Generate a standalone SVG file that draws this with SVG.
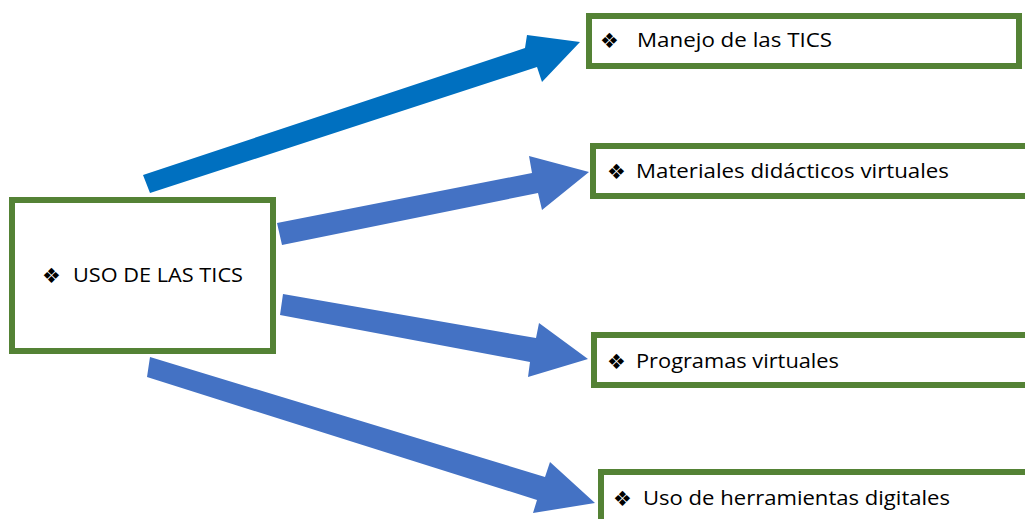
<svg xmlns="http://www.w3.org/2000/svg" width="1025" height="519" viewBox="0 0 1025 519">
<style>
.box{fill:#ffffff;stroke:#548235;stroke-width:6}
.lbl{font-family:"Open Sans","Liberation Sans",Arial,sans-serif;font-size:20px;fill:#000000}
.bul{font-family:"DejaVu Sans",sans-serif;font-size:21px;fill:#000000}
.a1{fill:#0070C0}
.a2{fill:#4472C4}
</style>
<rect width="1025" height="519" fill="#ffffff"/>
<g id="connectors">
<polygon class="a1" points="143,175 525,48 527,35 580,42 542,82 537,67 150,193"/>
<polygon class="a2" points="277,223 532,173 529,156 589,172 542,210 538,193 282,245"/>
<polygon class="a2" points="283,294 536,338 539,323 588,359 528,377 530,362 280,315"/>
<polygon class="a2" points="150,357 545,477 550,462 595,503 533,513 537,500 147,377"/>
</g>
<g id="node-uso">
<rect class="box" x="12" y="200" width="261" height="151"/>
<text class="bul" x="42" y="283">❖</text>
<text class="lbl" x="73" y="282" textLength="170" lengthAdjust="spacingAndGlyphs">USO DE LAS TICS</text>
</g>
<g id="node-manejo">
<rect class="box" x="589" y="16" width="430" height="50"/>
<text class="bul" x="600" y="48">❖</text>
<text class="lbl" x="637" y="47" textLength="195" lengthAdjust="spacingAndGlyphs">Manejo de las TICS</text>
</g>
<g id="node-materiales">
<rect class="box" x="593" y="146" width="440" height="50"/>
<text class="bul" x="607" y="179">❖</text>
<text class="lbl" x="636" y="178" textLength="313" lengthAdjust="spacingAndGlyphs">Materiales didácticos virtuales</text>
</g>
<g id="node-programas">
<rect class="box" x="594" y="335" width="440" height="50"/>
<text class="bul" x="607" y="369">❖</text>
<text class="lbl" x="636" y="368" textLength="203" lengthAdjust="spacingAndGlyphs">Programas virtuales</text>
</g>
<g id="node-herramientas">
<rect class="box" x="601" y="472" width="440" height="60"/>
<text class="bul" x="613" y="506">❖</text>
<text class="lbl" x="643" y="505" textLength="307" lengthAdjust="spacingAndGlyphs">Uso de herramientas digitales</text>
</g>
</svg>
